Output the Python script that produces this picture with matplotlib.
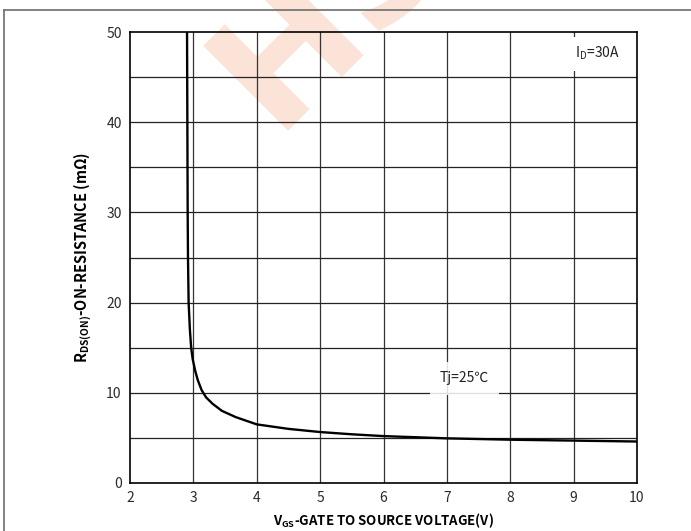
import matplotlib
matplotlib.use('Agg')
import matplotlib.pyplot as plt
from matplotlib.lines import Line2D

plt.rcParams['font.family'] = ['Noto Sans CJK SC', 'DejaVu Sans']
plt.rcParams['mathtext.fontset'] = 'custom'
plt.rcParams['mathtext.rm'] = 'Noto Sans CJK SC'
plt.rcParams['mathtext.bf'] = 'Noto Sans CJK SC:bold'

# gate voltage (V) vs on-resistance (mOhm), Tj = 25C, ID = 30A
vgs = [2.9, 2.905, 2.91, 2.915, 2.925, 2.945, 2.965, 2.99, 3.03, 3.07, 3.13,
       3.2, 3.3, 3.45, 3.67, 4.0, 4.5, 5.0, 5.5, 6.0, 7.0, 8.0, 9.0, 10.0]
rds_on = [50, 40, 30, 25, 20, 17, 15, 13.7, 12.4, 11.4, 10.3,
          9.5, 8.8, 8.0, 7.3, 6.5, 6.0, 5.65, 5.4, 5.2, 4.95, 4.8, 4.7, 4.6]

x_ticks = [2, 3, 4, 5, 6, 7, 8, 9, 10]
y_ticks = [0, 10, 20, 30, 40, 50]
y_grid = [5, 15, 25, 35, 45]

fig = plt.figure(figsize=(6.91, 5.31), dpi=100)
ax = fig.add_axes([130 / 691, 1 - 483 / 531, 507 / 691, 451 / 531])
ax.set_facecolor('none')

# faint company mark behind the chart
fig.text(0.48, 0.985, 'HS', rotation=45, ha='center', va='center',
         fontsize=118, fontweight='bold', color='#fbe3d8',
         family='DejaVu Sans', zorder=-1)

# frame lines around the figure
fig.add_artist(Line2D([3.5 / 691, 3.5 / 691], [0, 1 - 10 / 531],
                      transform=fig.transFigure, color='#777777', lw=1.3))
fig.add_artist(Line2D([3.5 / 691, 1], [1 - 10 / 531, 1 - 10 / 531],
                      transform=fig.transFigure, color='#777777', lw=1.3))

for v in x_ticks[1:-1]:
    ax.axvline(v, color='#333333', lw=0.9, zorder=1)
for r in y_ticks[1:-1] + y_grid:
    ax.axhline(r, color='#222222', lw=0.9, zorder=1)

ax.plot(vgs, rds_on, color='black', lw=1.7, zorder=3)

ax.set_xlim(2, 10)
ax.set_ylim(0, 50)
ax.set_xticks(x_ticks)
ax.set_yticks(y_ticks)
ax.tick_params(length=0, labelsize=10, pad=6, labelcolor='#2a2a2a')
for s in ax.spines.values():
    s.set_linewidth(1.2)
    s.set_color('black')

ax.text(9.38, 47.6, r'I$_{\rm D}$=30A', ha='center', va='center', fontsize=10,
        color='#222222', zorder=4,
        bbox=dict(facecolor='white', edgecolor='none', pad=6))
ax.text(7.28, 11.6, 'Tj=25℃', ha='center', va='center', fontsize=10,
        color='#222222', zorder=4,
        bbox=dict(facecolor='white', edgecolor='none', alpha=0.85, pad=7))

ax.set_xlabel(r'V$_{\mathbf{GS}}$-GATE TO SOURCE VOLTAGE(V)', fontsize=9.5,
              fontweight='bold', labelpad=4)
ax.set_ylabel(r'R$_{\mathbf{DS(ON)}}$-ON-RESISTANCE (mΩ)', fontsize=10.5,
              fontweight='bold', labelpad=9)

fig.savefig('out.png', dpi=100)
